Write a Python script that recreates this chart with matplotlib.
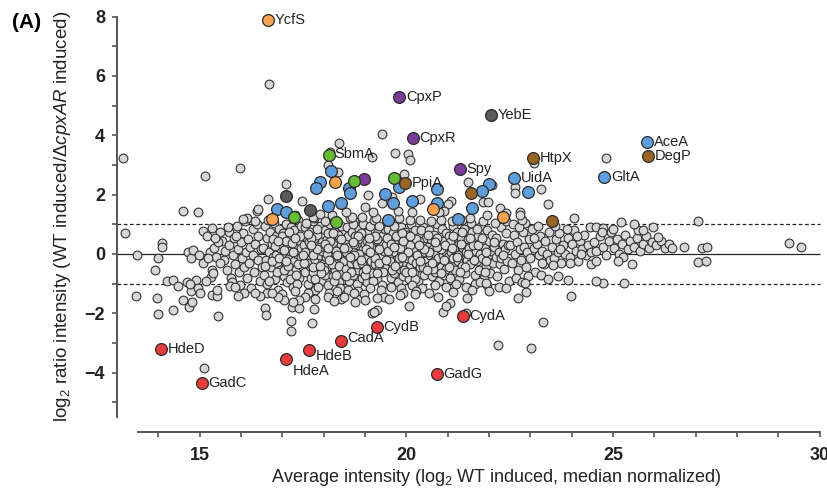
import numpy as np
import matplotlib.pyplot as plt

plt.rcParams['font.family'] = ['Liberation Sans', 'DejaVu Sans']
plt.rcParams['mathtext.fontset'] = 'custom'
plt.rcParams['mathtext.rm'] = 'Liberation Sans'
plt.rcParams['mathtext.it'] = 'Liberation Sans:italic'

# grey background proteins
grey_core = [
    (15.55, 0.45), (15.6, -0.2), (15.62, 0.1), (15.65, -0.55), (15.7, 0.75), (15.72, 0.3), (15.75, -0.8),
    (15.8, -0.05), (15.82, 0.55), (15.85, -0.35), (15.9, 0.95), (15.92, 0.15), (15.95, -0.6), (15.98, -1.05),
    (16.0, 0.4), (16.02, -0.15), (16.05, 0.7), (16.08, -0.45), (16.1, 1.1), (16.12, 0.05), (16.15, -0.8),
    (16.18, 0.5), (16.2, -0.3), (16.22, 0.25), (16.25, -1.15), (16.28, 0.85), (16.3, -0.05), (16.32, -0.6),
    (16.35, 0.35), (16.38, 1.0), (16.4, -0.2), (16.42, 0.6), (16.45, -0.9), (16.48, 0.15), (16.5, -0.45),
    (15.68, 0.9), (15.78, -0.95), (16.15, 1.2), (15.88, 0.6), (16.08, -1.3),
    (16.52, 0.2), (16.55, -0.7), (16.57, 0.95), (16.6, -0.2), (16.62, 0.55), (16.64, -1.0), (16.67, 0.05),
    (16.7, 0.75), (16.72, -0.45), (16.74, 0.35), (16.77, -0.1), (16.8, 1.05), (16.82, -0.85), (16.84, 0.6),
    (16.86, -0.3), (16.88, 0.15), (16.9, -1.2), (16.92, 0.85), (16.95, -0.55), (16.97, 0.4), (17.0, -0.05),
    (17.02, 0.7), (17.04, -0.75), (17.06, 0.25), (17.08, -0.35), (17.1, 1.0), (17.12, -0.95), (17.14, 0.5),
    (17.16, -0.15), (17.18, 0.1), (17.2, -0.6), (17.22, 0.9), (17.25, -1.1), (17.27, 0.3), (17.29, -0.25),
    (17.31, 0.65), (17.33, -0.5), (17.35, 0.0), (17.37, 1.15), (17.4, -0.8), (17.42, 0.45), (17.44, -0.1),
    (17.46, 0.2), (17.48, -0.4), (16.58, -0.4), (16.68, -0.9), (16.78, 0.5), (16.88, -0.6), (16.98, 0.6),
    (17.08, 0.45), (17.18, -0.85), (17.28, 0.8), (17.38, -0.35), (16.65, 1.15), (16.85, -0.05), (17.05, -0.55),
    (17.25, 0.05), (17.45, 0.95), (16.75, -0.25), (16.95, 0.2), (17.15, 0.75), (17.35, -1.0), (16.62, -1.3),
    (17.0, -1.35), (17.3, -1.25),
    (17.52, 0.3), (17.54, -0.6), (17.56, 0.9), (17.58, -0.15), (17.6, 0.55), (17.62, -1.0), (17.64, 0.1),
    (17.66, -0.4), (17.68, 0.75), (17.7, -0.8), (17.72, 0.2), (17.74, 1.1), (17.76, -0.25), (17.78, 0.45),
    (17.8, -1.2), (17.82, 0.0), (17.84, 0.65), (17.86, -0.55), (17.88, 0.3), (17.9, -0.05), (17.92, 0.95),
    (17.94, -0.9), (17.96, 0.4), (17.98, -0.35), (18.0, 0.15), (18.02, -0.7), (18.04, 0.8), (18.06, -0.1),
    (18.08, 0.5), (18.1, -1.05), (18.12, 0.25), (18.14, -0.45), (18.16, 1.0), (18.18, -0.2), (18.2, 0.6),
    (18.22, -0.75), (18.24, 0.05), (18.26, 0.35), (18.28, -0.55), (18.3, 0.85), (18.32, -0.3), (18.34, 0.15),
    (18.36, -0.95), (18.38, 0.55), (18.4, -0.1), (18.42, 0.3), (18.44, -0.6), (18.46, 0.75), (18.48, -0.25),
    (17.55, 0.05), (17.65, 0.4), (17.75, -0.6), (17.85, 0.85), (17.95, 0.1), (18.05, -0.45), (18.15, 0.45),
    (18.25, -0.9), (18.35, 0.65), (18.45, 0.1), (17.6, -0.3), (17.7, 0.55), (17.8, -0.85), (17.9, 0.25),
    (18.0, -0.55), (18.1, 0.7), (18.2, -0.35), (18.3, 0.1), (18.4, -1.15), (17.57, 1.05), (17.77, 1.2),
    (18.03, 1.1), (18.27, 1.15), (18.43, 0.95), (17.63, -1.3), (17.87, -1.1), (18.13, -1.3), (18.33, -1.25),
    (17.73, -0.05), (18.07, 0.0), (18.37, -0.4),
    (18.52, 0.4), (18.54, -0.5), (18.56, 0.9), (18.58, -0.05), (18.6, 0.6), (18.62, -0.9), (18.64, 0.2),
    (18.66, -0.3), (18.68, 0.75), (18.7, -0.7), (18.72, 0.05), (18.74, 1.1), (18.76, -0.2), (18.78, 0.45),
    (18.8, -1.0), (18.82, 0.3), (18.84, -0.55), (18.86, 0.85), (18.88, -0.1), (18.9, 0.5), (18.92, -0.8),
    (18.94, 0.15), (18.96, 1.0), (18.98, -0.4), (19.0, 0.35), (19.02, -0.15), (19.04, 0.7), (19.06, -0.95),
    (19.08, 0.1), (19.1, -0.45), (19.12, 0.95), (19.14, -0.25), (19.16, 0.55), (19.18, -0.65), (19.2, 0.2),
    (19.22, 1.15), (19.24, -0.35), (19.26, 0.4), (19.28, -0.85), (19.3, 0.0), (19.32, 0.75), (19.34, -0.5),
    (19.36, 0.25), (19.38, -0.1), (19.4, 0.6), (19.42, -1.05), (19.44, 0.35), (19.46, -0.3), (19.48, 0.85),
    (18.55, 0.05), (18.65, -0.6), (18.75, 0.6), (18.85, 0.0), (18.95, -0.6), (19.05, 0.45), (19.15, 0.25),
    (19.25, -0.15), (19.35, 0.95), (19.45, 0.1), (18.6, 0.25), (18.7, 1.0), (18.8, -0.35), (18.9, 0.7),
    (19.0, -0.7), (19.1, 0.3), (19.2, -0.9), (19.3, 0.5), (19.4, -0.45), (18.58, -1.2), (18.83, -1.25),
    (19.13, -1.15), (19.38, -1.2), (18.63, 1.2), (18.93, 1.25), (19.27, 1.2), (18.73, -0.05), (19.03, 0.15),
    (19.33, -0.3), (18.98, -1.35),
    (19.52, 0.3), (19.54, -0.45), (19.56, 0.85), (19.58, -0.1), (19.6, 0.55), (19.62, -0.8), (19.64, 0.15),
    (19.66, -0.3), (19.68, 0.7), (19.7, -0.65), (19.72, 0.05), (19.74, 1.05), (19.76, -0.2), (19.78, 0.4),
    (19.8, -0.95), (19.82, 0.25), (19.84, -0.5), (19.86, 0.9), (19.88, -0.05), (19.9, 0.5), (19.92, -0.75),
    (19.94, 0.1), (19.96, 0.75), (19.98, -0.35), (20.0, 0.3), (20.02, -0.15), (20.04, 0.65), (20.06, -0.85),
    (20.08, 0.05), (20.1, -0.4), (20.12, 1.0), (20.14, -0.2), (20.16, 0.45), (20.18, -0.6), (20.2, 0.2),
    (20.22, 0.8), (20.24, -0.3), (20.26, 0.35), (20.28, -0.9), (20.3, 0.0), (20.32, 0.6), (20.34, -0.45),
    (20.36, 0.2), (20.38, -0.1), (20.4, 0.9), (20.42, -0.7), (20.44, 0.35), (20.46, -0.25), (20.48, 0.55),
    (19.55, 0.1), (19.65, -0.55), (19.75, 0.6), (19.85, 0.2), (19.95, -0.55), (20.05, 0.45), (20.15, 0.15),
    (20.25, -0.05), (20.35, 0.8), (20.45, 0.05), (19.6, -0.25), (19.7, 0.95), (19.8, -0.3), (19.9, 0.7),
    (20.0, -0.6), (20.1, 0.3), (20.2, -0.85), (20.3, 0.45), (20.4, -0.45), (19.63, -1.1), (19.88, -1.15),
    (20.13, -1.05), (20.38, -1.15), (19.58, 1.15), (19.83, 1.2), (20.08, 1.15), (20.33, 1.15), (19.93, -1.3),
    (20.23, -1.25),
    (20.52, 0.25), (20.54, -0.4), (20.56, 0.8), (20.58, -0.05), (20.6, 0.5), (20.62, -0.75), (20.64, 0.15),
    (20.66, -0.25), (20.68, 0.65), (20.7, -0.6), (20.72, 0.0), (20.74, 1.0), (20.76, -0.15), (20.78, 0.35),
    (20.8, -0.9), (20.82, 0.2), (20.84, -0.45), (20.86, 0.85), (20.88, -0.05), (20.9, 0.45), (20.92, -0.7),
    (20.94, 0.1), (20.96, 0.7), (20.98, -0.3), (21.0, 0.25), (21.02, -0.1), (21.04, 0.6), (21.06, -0.8),
    (21.08, 0.05), (21.1, -0.35), (21.12, 0.95), (21.14, -0.15), (21.16, 0.4), (21.18, -0.55), (21.2, 0.15),
    (21.22, 0.75), (21.24, -0.25), (21.26, 0.3), (21.28, -0.85), (21.3, 0.0), (21.32, 0.55), (21.34, -0.4),
    (21.36, 0.2), (21.38, -0.05), (21.4, 0.85), (21.42, -0.65), (21.44, 0.3), (21.46, -0.2), (21.48, 0.5),
    (20.55, 0.05), (20.65, -0.5), (20.75, 0.55), (20.85, 0.15), (20.95, -0.5), (21.05, 0.4), (21.15, 0.15),
    (21.25, -0.05), (21.35, 0.75), (21.45, 0.05), (20.6, 1.1), (20.85, 1.15), (21.1, 1.1), (21.35, 1.15),
    (20.7, -1.05), (20.95, -1.1), (21.2, -1.0), (21.45, -1.1),
    (21.52, 0.2), (21.55, -0.35), (21.58, 0.75), (21.6, -0.05), (21.63, 0.45), (21.66, -0.7), (21.68, 0.1),
    (21.7, -0.25), (21.73, 0.6), (21.76, -0.55), (21.78, 0.0), (21.8, 0.95), (21.83, -0.15), (21.86, 0.35),
    (21.88, -0.8), (21.9, 0.2), (21.93, -0.4), (21.96, 0.8), (21.98, -0.05), (22.0, 0.45), (22.03, -0.65),
    (22.06, 0.1), (22.08, 0.65), (22.1, -0.3), (22.13, 0.25), (22.16, -0.1), (22.18, 0.55), (22.2, -0.75),
    (22.23, 0.05), (22.26, -0.35), (22.28, 0.9), (22.3, -0.15), (22.33, 0.35), (22.36, -0.5), (22.38, 0.15),
    (22.4, 0.7), (22.43, -0.25), (22.46, 0.3), (22.48, -0.9), (21.57, 1.05), (21.85, 1.1), (22.15, 1.05),
    (22.42, 1.1), (21.65, -1.0), (21.95, -1.05), (22.25, -1.1), (21.62, 0.3), (21.92, -0.25), (22.12, 0.4),
    (22.35, -0.05),
    (22.52, 0.3), (22.56, -0.3), (22.6, 0.65), (22.63, 0.0), (22.67, 0.4), (22.7, -0.55), (22.74, 0.15),
    (22.78, -0.2), (22.82, 0.75), (22.85, 0.25), (22.9, -0.45), (22.93, 0.05), (22.97, 0.5), (23.0, -0.15),
    (23.04, 0.85), (23.08, 0.2), (23.12, -0.6), (23.15, 0.35), (23.2, -0.05), (23.24, 0.6), (23.28, 0.1),
    (23.32, -0.35), (23.36, 0.45), (23.4, 0.0), (23.44, 0.75), (23.48, -0.2), (22.58, 1.0), (22.88, 1.05),
    (23.18, 0.95), (22.65, -0.8), (22.95, -0.75), (23.25, -0.7), (22.72, 0.9), (23.1, 0.55),
    (23.52, 0.25), (23.57, -0.15), (23.62, 0.5), (23.66, 0.05), (23.7, 0.7), (23.75, -0.3), (23.8, 0.3),
    (23.85, 0.0), (23.9, 0.55), (23.95, -0.1), (24.0, 0.35), (24.05, 0.8), (24.1, 0.1), (24.15, -0.25),
    (24.2, 0.45), (24.25, 0.15), (24.3, 0.65), (24.35, -0.05), (24.4, 0.3), (24.45, 0.9), (23.6, 0.95),
    (23.88, 0.85), (24.22, 0.0), (24.48, 0.05), (23.73, 0.15), (24.12, 0.6),
    (24.55, 0.4), (24.6, 0.1), (24.68, 0.6), (24.75, 0.25), (24.82, -0.05), (24.9, 0.45), (24.95, 0.75),
    (25.02, 0.2), (25.1, 0.5), (25.15, 0.0), (25.22, 0.35), (25.3, 0.65), (25.36, 0.15), (25.42, 0.45),
    (25.5, 0.25), (25.58, 0.55), (25.65, 0.1), (25.72, 0.35), (25.8, 0.6), (25.88, 0.2), (25.95, 0.4),
    (26.05, 0.3), (26.15, 0.45), (26.25, 0.2), (26.35, 0.35), (24.6, 0.9), (25.0, 0.85), (25.25, -0.1),
    (25.6, 0.8),
]

# extra points where the cloud is packed solid
grey_dense = [
    (16.83, 0.28), (16.93, -0.15), (17.03, 0.12), (17.13, -0.42), (17.23, 0.38), (17.33, -0.7), (17.43, 0.62),
    (17.53, -0.32), (17.63, 0.68), (17.73, -0.45), (17.83, 0.18), (17.93, -0.65), (18.03, 0.35), (18.13, -0.22),
    (18.23, 0.72), (18.33, -0.05), (18.43, 0.5), (18.53, -0.75), (18.63, -0.1), (18.73, 0.35), (18.83, 0.62),
    (18.93, -0.3), (19.03, -0.5), (19.13, 0.05), (19.23, 0.62), (19.33, 0.15), (19.43, -0.6), (19.53, 0.55),
    (19.63, 0.35), (19.73, -0.4), (19.83, -0.15), (19.93, 0.45), (20.03, 0.05), (20.13, -0.6), (20.23, 0.5),
    (20.33, -0.25), (20.43, 0.15), (20.53, 0.65), (20.63, -0.3), (20.73, 0.25), (20.83, -0.65), (20.93, 0.3),
    (21.03, -0.45), (21.13, 0.6), (21.23, -0.1), (21.33, 0.35), (21.43, -0.45), (21.53, 0.55), (21.63, -0.2),
    (21.73, 0.3), (21.83, 0.55), (21.93, 0.05), (16.9, 0.45), (17.1, -0.25), (17.3, 0.55), (17.5, -0.05),
    (17.7, 0.3), (17.9, -0.4), (18.1, 0.2), (18.3, -0.7), (18.5, 0.2), (18.7, 0.4), (18.9, -0.2), (19.1, 0.55),
    (19.3, -0.65), (19.5, -0.2), (19.7, 0.25), (19.9, -0.1), (20.1, 0.6), (20.3, 0.3), (20.5, -0.55),
    (20.7, 0.4), (20.9, -0.2), (21.1, 0.2), (21.3, -0.6), (21.5, 0.0), (21.7, 0.85), (21.9, -0.6),
]

grey_left = [
    (13.48, -0.03), (13.91, -0.54), (13.45, -1.42), (13.96, -1.49), (13.98, -2.02), (14.2, -0.9),
    (14.35, -0.88), (14.35, -1.89), (14.47, -1.08), (14.59, -1.55), (14.74, -1.78), (14.81, -1.62),
    (14.7, -0.95), (14.9, -0.88), (14.8, -1.25), (14.95, -1.15), (14.71, 0.05), (14.8, -0.12), (14.83, 0.13),
    (15.07, -0.3), (15.44, -2.09), (15.1, -3.84), (15.3, -1.4), (15.43, -1.42), (15.41, -1.22), (15.3, -0.55),
    (15.27, -0.78), (15.32, -0.65), (15.92, -1.42), (15.73, -1.08), (15.85, -1.12), (14.1, 0.38), (14.1, 0.24),
    (15.07, 0.78), (15.17, 0.61), (15.3, 0.88), (14.6, 1.46), (14.96, 1.42), (13.19, 0.7), (13.14, 3.23),
    (15.12, 2.63), (15.97, 2.9), (16.67, 5.72), (15.25, 0.05), (15.35, 0.2), (15.4, -0.1), (15.45, 0.4),
    (15.48, 0.75), (15.5, -0.3), (15.2, -0.15), (15.38, 0.55), (13.98, -0.15), (14.76, -1.0), (15.0, -1.3),
    (14.98, -0.05), (15.15, -0.9),
]

grey_high = [
    (18.36, 3.75), (18.15, 3.45), (18.1, 3.0), (18.34, 2.77), (19.18, 3.28), (19.4, 4.03), (19.72, 3.39),
    (20.03, 3.36), (20.1, 3.17), (19.94, 2.68), (19.07, 1.98), (19.8, 1.46), (17.08, 2.36), (17.47, 1.79),
    (16.65, 1.85), (16.38, 1.46), (16.04, 1.18), (16.33, 1.11), (17.73, 1.25), (18.99, 1.59), (19.19, 1.42),
    (19.4, 1.72), (19.65, 1.92), (18.68, 1.25), (21.48, 2.43), (22.07, 2.32), (22.62, 2.26), (22.62, 2.06),
    (23.25, 2.18), (23.08, 3.07), (24.82, 3.25), (20.32, 1.84), (20.13, 1.42), (21.07, 1.79), (21.0, 1.68),
    (21.85, 1.75), (21.97, 1.75), (23.42, 1.69), (22.26, 1.55), (22.4, 1.38), (22.74, 1.41), (22.79, 1.15),
    (20.9, 1.45), (20.78, 1.4), (21.55, 1.22), (21.95, 1.32), (22.75, 1.3), (17.9, 1.35), (18.2, 1.3),
    (18.55, 1.4), (17.3, 1.3), (24.05, 1.22), (25.19, 1.06), (25.5, 1.01), (27.05, 1.12), (16.4, 1.52),
]

grey_low = [
    (16.57, -1.82), (16.6, -2.06), (17.2, -2.26), (17.22, -2.6), (17.71, -2.33), (17.23, -1.78), (17.4, -1.82),
    (17.76, -1.85), (19.16, -1.99), (19.28, -1.89), (19.22, -1.95), (18.75, -1.62), (18.73, -1.31),
    (18.41, -1.52), (18.1, -1.45), (17.8, -1.52), (17.55, -1.45), (17.4, -1.55), (17.25, -1.62), (17.05, -1.55),
    (16.9, -1.45), (16.75, -1.3), (16.45, -1.42), (16.35, -1.3), (19.0, -1.55), (19.45, -1.45), (19.58, -1.52),
    (20.06, -1.75), (20.76, -1.46), (20.88, -1.96), (21.05, -1.66), (20.95, -1.75), (21.12, -1.28),
    (21.46, -1.49), (21.44, -1.99), (22.69, -1.48), (22.89, -1.28), (23.99, -1.42), (23.3, -2.29),
    (22.21, -3.07), (23.01, -3.17), (23.9, -0.88), (23.66, -0.74), (23.42, -0.84), (24.77, -0.98),
    (24.58, -0.91), (25.26, -0.98), (25.45, -0.34), (25.11, -0.24), (27.05, -0.27), (27.24, -0.24),
    (24.46, -0.34), (24.6, -0.24), (23.95, -0.3), (23.28, -0.3), (23.55, -0.37), (22.8, -0.94), (22.86, -0.98),
    (21.78, -0.94), (21.92, -0.98), (20.55, -1.3), (20.2, -1.35), (19.85, -1.4), (21.6, -1.2), (22.0, -1.25),
    (22.4, -1.15), (18.5, -1.45), (18.25, -1.6), (19.3, -1.5),
]

grey_right = [
    (29.25, 0.37), (29.54, 0.24), (26.42, 0.2), (26.73, 0.24), (27.15, 0.2), (27.27, 0.24), (25.72, 0.81),
    (25.98, 0.9), (26.08, 0.57), (24.75, 0.88), (24.73, 0.74),
]

# highlighted proteins, grouped by colour
blue_pts = [
    (25.82, 3.77), (24.78, 2.60), (22.60, 2.57), (22.94, 2.10), (21.99, 2.35), (21.82, 2.12), (20.73, 2.19),
    (20.13, 1.79), (20.73, 1.73), (21.58, 1.54), (21.24, 1.18), (17.90, 2.43), (17.81, 2.22), (18.17, 2.80),
    (18.61, 2.22), (18.63, 2.06), (18.10, 1.62), (18.41, 1.73), (16.86, 1.52), (17.08, 1.42), (19.48, 2.02),
    (19.67, 1.72), (19.82, 2.27), (19.55, 1.15),
]
orange_pts = [(16.65, 7.89), (18.27, 2.43), (16.74, 1.18), (20.64, 1.52), (22.33, 1.25)]
brown_pts = [(25.84, 3.30), (23.06, 3.23), (19.96, 2.39), (21.56, 2.06), (23.52, 1.11)]
purple_pts = [(19.82, 5.29), (20.15, 3.92), (21.29, 2.86), (18.97, 2.52)]
green_pts = [(18.12, 3.33), (18.73, 2.45), (19.70, 2.55), (17.27, 1.24), (18.31, 1.08)]
dark_pts = [(22.04, 4.68), (17.08, 1.95), (17.66, 1.48)]
red_pts = [(14.06, -3.20), (15.05, -4.35), (17.08, -3.54), (17.64, -3.24), (18.41, -2.93), (19.28, -2.46),
           (20.73, -4.04), (21.36, -2.09)]

label_names = ["YcfS", "CpxP", "YebE", "CpxR", "SbmA", "AceA", "DegP", "HtpX", "Spy", "PpiA", "UidA", "GltA",
               "HdeD", "GadC", "HdeA", "HdeB", "CadA", "CydB", "GadG", "CydA"]
label_x = [16.65, 19.82, 22.04, 20.15, 18.12, 25.82, 25.84, 23.06, 21.29, 19.96, 22.60, 24.78,
           14.06, 15.05, 17.08, 17.64, 18.41, 19.28, 20.73, 21.36]
label_y = [7.89, 5.29, 4.68, 3.92, 3.33, 3.77, 3.30, 3.23, 2.86, 2.39, 2.57, 2.60,
           -3.20, -4.35, -3.54, -3.24, -2.93, -2.46, -4.04, -2.09]

fig = plt.figure(figsize=(8.27, 4.92), dpi=100)
ax = fig.add_axes([0.1415, 0.122, 0.8546, 0.8624])

ax.hlines(0, 13, 30, colors='#222222', linewidth=0.9, zorder=1)
ax.hlines([1, -1], 13, 30, colors='#222222', linewidth=0.9, linestyles=(0, (3, 2)), zorder=1)

grey = np.array(grey_core + grey_dense + grey_left + grey_high + grey_low + grey_right)
ax.scatter(grey[:, 0], grey[:, 1], s=40, c='#d6d6d6', edgecolors='#333333', linewidths=0.8, zorder=2)

groups = [
    (blue_pts, '#5f9ddb'),
    (orange_pts, '#f7a24e'),
    (brown_pts, '#9a6524'),
    (purple_pts, '#7b3c96'),
    (green_pts, '#66bb35'),
    (dark_pts, '#5a5a5a'),
    (red_pts, '#e63c3c'),
]
for pts, col in groups:
    p = np.array(pts)
    ax.scatter(p[:, 0], p[:, 1], s=72, c=col, edgecolors='#2a2a2a', linewidths=0.9, zorder=3)

offsets = {"HdeA": (5, -9), "HdeB": (5, -4), "CadA": (5, 2), "SbmA": (4, 1)}
for name, lx, ly in zip(label_names, label_x, label_y):
    dx, dy = offsets.get(name, (5, 0))
    ax.annotate(name, (lx, ly), xytext=(dx, dy), textcoords='offset points',
                fontsize=10.5, color='#222222', va='center', ha='left', zorder=4)

ax.set_xlim(13, 30.1)
ax.set_ylim(-6, 8.3)
ax.spines['top'].set_visible(False)
ax.spines['right'].set_visible(False)
ax.spines['left'].set_bounds(-5.5, 8)
ax.spines['bottom'].set_bounds(13.5, 30)
for s in ['left', 'bottom']:
    ax.spines[s].set_color('#555555')
    ax.spines[s].set_linewidth(1.4)

ax.set_xticks([15, 20, 25, 30])
ax.set_xticks(np.arange(14, 30, 1), minor=True)
ax.set_yticks([-4, -2, 0, 2, 4, 6, 8])
ax.set_yticks([-5, -3, -1, 1, 3, 5, 7], minor=True)
ax.tick_params(which='both', direction='out', length=3.5, width=1.2, color='#555555')
ax.tick_params(axis='y', pad=5)
ax.tick_params(axis='x', pad=7)
for lab in ax.get_xticklabels() + ax.get_yticklabels():
    lab.set_fontweight('bold')
    lab.set_fontsize(13)
    lab.set_color('#222222')

ax.set_xlabel(r"Average intensity (log$_2$ WT induced, median normalized)", fontsize=13, color='#222222')
ax.xaxis.set_label_coords(0.537, -0.083)
ax.set_ylabel(r"log$_2$ ratio intensity (WT induced/Δ$\it{cpxAR}$ induced)", fontsize=13.5, color='#222222')
ax.yaxis.set_label_coords(-0.062, 0.507)

fig.text(0.0145, 0.955, "(A)", fontsize=15, fontweight='bold', va='center', ha='left')

fig.savefig("out.png", dpi=100)
